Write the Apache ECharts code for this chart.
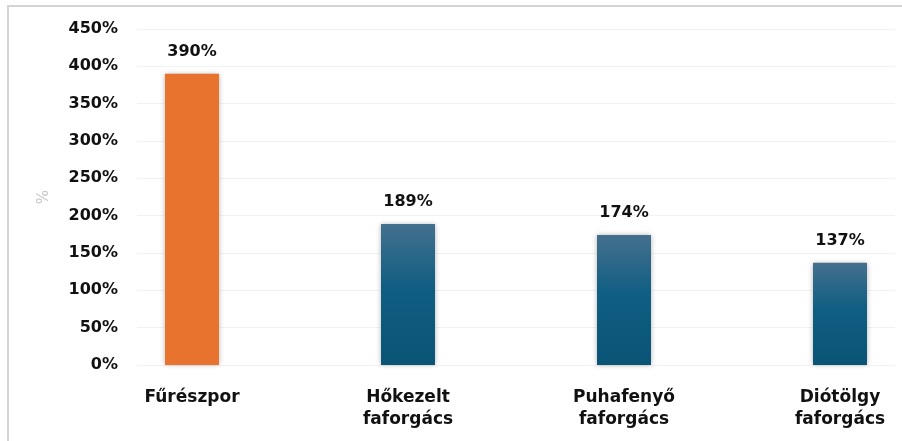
<!DOCTYPE html>
<html>
<head>
<meta charset="utf-8">
<script src="https://cdn.jsdelivr.net/npm/echarts@6/dist/echarts.min.js"></script>
<style>
  html, body { margin: 0; padding: 0; background: #fff; }
  #chart { width: 902px; height: 441px; }
</style>
</head>
<body>
<div id="chart"></div>
<script>
// data
const categories = ['Fűrészpor', 'Hőkezelt\nfaforgács', 'Puhafenyő\nfaforgács', 'Diótölgy\nfaforgács']
const values = [390, 189, 174, 137]
const yTicks = [0, 50, 100, 150, 200, 250, 300, 350, 400, 450]

const chart = echarts.init(document.getElementById('chart'))

const boldFont = 'DejaVu Sans, Liberation Sans, Arial, sans-serif'

const blueGrad = new echarts.graphic.LinearGradient(0, 0, 0, 1, [
  { offset: 0, color: '#44708e' },
  { offset: 0.45, color: '#105e83' },
  { offset: 1, color: '#0a5576' }
])

const option = {
  animation: false,
  textStyle: { fontFamily: boldFont },
  graphic: [{
    type: 'rect',
    shape: { x: 8, y: 6, width: 1000, height: 1000 },
    style: { fill: 'none', stroke: '#d4d4d4', lineWidth: 2 },
    silent: true
  }],
  grid: [
    // gridlines + y labels
    { left: 137, right: 7, top: 29, bottom: 76 },
    // bars + category labels (first / last category on the edges)
    { left: 192, right: 62, top: 29, bottom: 76 }
  ],
  xAxis: [
    { gridIndex: 0, type: 'value', show: false, min: 0, max: 1 },
    {
      gridIndex: 1,
      type: 'category',
      boundaryGap: false,
      data: categories,
      axisLine: { show: false },
      axisTick: { show: false },
      splitLine: { show: false },
      axisLabel: {
        color: '#111',
        fontSize: 17,
        fontWeight: 'bold',
        lineHeight: 22,
        margin: 22
      }
    }
  ],
  yAxis: [
    {
      gridIndex: 0,
      type: 'value',
      min: 0,
      max: yTicks[yTicks.length - 1],
      interval: 50,
      name: '%',
      nameLocation: 'middle',
      nameGap: 85,
      nameTextStyle: { color: '#c8c8c8', fontSize: 15 },
      axisLine: { show: false },
      axisTick: { show: false },
      splitLine: { lineStyle: { color: '#f2f2f2', width: 1 } },
      axisLabel: {
        color: '#111',
        fontSize: 16,
        fontWeight: 'bold',
        margin: 19,
        formatter: (v) => v + '%'
      }
    },
    { gridIndex: 1, type: 'value', min: 0, max: 450, show: false }
  ],
  series: [{
    type: 'bar',
    xAxisIndex: 1,
    yAxisIndex: 1,
    barWidth: 54,
    data: values.map((v, i) => ({
      value: v,
      itemStyle: {
        color: i === 0 ? '#e8732f' : blueGrad,
        shadowBlur: 5,
        shadowColor: 'rgba(0,0,0,0.3)',
        shadowOffsetX: 0,
        shadowOffsetY: 0
      }
    })),
    label: {
      show: true,
      position: 'top',
      distance: 14,
      color: '#111',
      fontSize: 16,
      fontWeight: 'bold',
      formatter: (p) => p.value + '%'
    }
  }]
}

chart.setOption(option)
</script>
</body>
</html>
